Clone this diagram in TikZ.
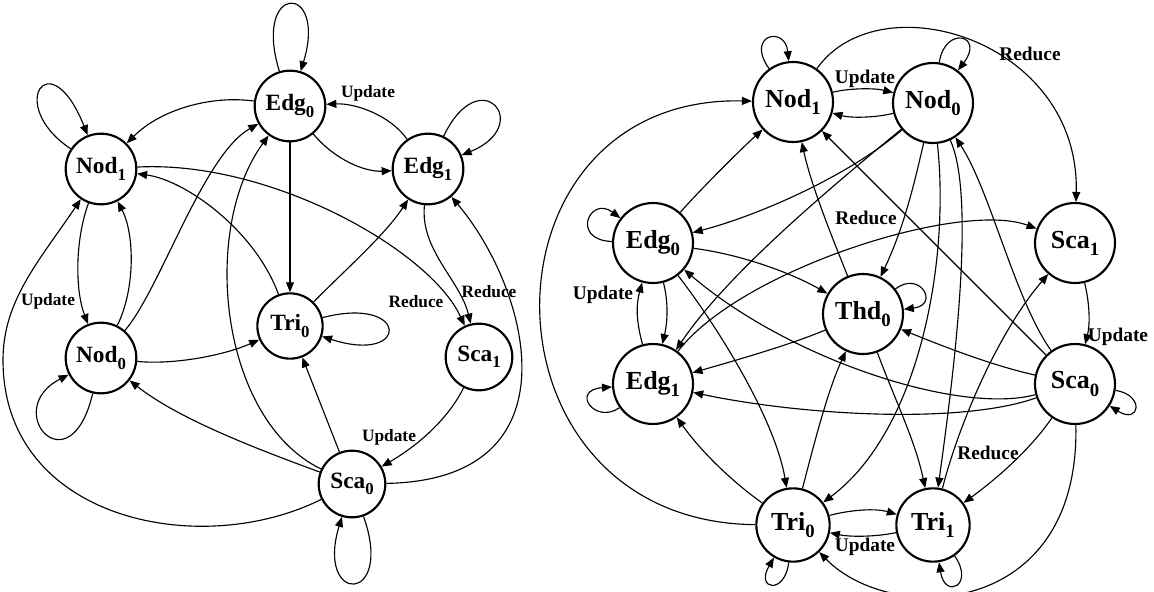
\documentclass[tikz,border=0pt]{standalone}
\usepackage{fontspec}
\setmainfont{Liberation Serif}
\usetikzlibrary{arrows.meta}
\newcommand{\nsub}[1]{\raisebox{-0.6ex}{\scalebox{0.72}{#1}}}
\begin{document}
\begin{tikzpicture}[x=0.75pt,y=-0.75pt,
  circ/.style={circle,draw,line width=1.6pt,inner sep=0pt},
  lnode/.style={circ,minimum size=53pt,font=\bfseries\fontsize{17.5}{19}\selectfont},
  rnode/.style={circ,minimum size=60pt,font=\bfseries\fontsize{19.5}{21}\selectfont},
  arr/.style={line width=0.85pt,-{Triangle[length=7.5pt,width=6pt]}},
  llbl/.style={inner sep=0pt,font=\bfseries\fontsize{13}{15}\selectfont},
  rlbl/.style={inner sep=0pt,font=\bfseries\fontsize{14.5}{16}\selectfont}]
\useasboundingbox (0,0) rectangle (1154,592);
\fill[white] (0,0) rectangle (1154,592);

% ---------------- left graph ----------------
\node[lnode] (N1) at (101,169) {Nod\nsub{1}};
\node[lnode] (E0) at (290,106) {Edg\nsub{0}};
\node[lnode] (E1) at (428,169) {Edg\nsub{1}};
\node[lnode] (N0) at (101,358) {Nod\nsub{0}};
\node[lnode,minimum size=49pt] (T0) at (290,326) {Tri\nsub{0}};
\node[lnode,minimum size=50pt] (S1) at (479,357) {Sca\nsub{1}};
\node[lnode,minimum size=50pt] (S0) at (352,484) {Sca\nsub{0}};
\coordinate (lw) at (3,360);

% self loops
\draw[arr] (N1) .. controls (5,105) and (50,40) .. (N1);
\draw[arr] (E0) .. controls (252,-18) and (328,-18) .. (E0);
\draw[arr] (E1) .. controls (480,60) and (535,125) .. (E1);
\draw[arr] (N0) .. controls (70,490) and (0,410) .. (N0);
\draw[arr] (T0) .. controls (410,295) and (410,365) .. (T0);
\draw[arr] (S0) .. controls (395,605) and (315,605) .. (S0);

% transitions
\draw[arr] (E0) .. controls (210,95) and (160,110) .. (N1);
\draw[arr] (E0) .. controls (335,160) and (365,172) .. (E1);
\draw[arr] (E1) .. controls (390,115) and (355,103) .. (E0);
\draw[arr] (E0) -- (T0);
\draw[arr] (N1) .. controls (75,240) and (75,290) .. (N0);
\draw[arr] (N0) .. controls (135,290) and (135,235) .. (N1);
\draw[arr] (N0) .. controls (160,290) and (203,155) .. (E0);
\draw[arr] (S0) .. controls (220,420) and (200,230) .. (E0);
\draw[arr] (T0) .. controls (255,230) and (185,180) .. (N1);
\draw[arr] (N1) .. controls (270,160) and (430,250) .. (S1);
\draw[arr] (E1) .. controls (420,250) and (460,280) .. (S1);
\draw[arr] (T0) .. controls (345,270) and (385,235) .. (E1);
\draw[arr] (S0) .. controls (580,480) and (530,290) .. (E1);
\draw[arr] (S1) .. controls (445,425) and (410,450) .. (S0);
\draw[arr] (S0) -- (T0);
\draw[arr] (S0) .. controls (260,450) and (180,420) .. (N0);
\draw[arr] (S0) .. controls (200,560) and (3,520) .. (lw)
                .. controls (3,300) and (40,260) .. (N1);
\draw[arr] (N0) .. controls (175,365) and (225,355) .. (T0);

\node[llbl] (lu1) at (368,93) {Update};
\node[llbl] (lu2) at (48,301) {Update};
\node[llbl] (lr1) at (416,302) {Reduce};
\node[llbl] (lr2) at (489,292) {Reduce};
\node[llbl] (lu3) at (389,437) {Update};

% ---------------- right graph ----------------
\node[rnode] (RN1) at (793,102) {Nod\nsub{1}};
\node[rnode] (RN0) at (933,103) {Nod\nsub{0}};
\node[rnode] (RE0) at (653,243) {Edg\nsub{0}};
\node[rnode] (RS1) at (1075,243) {Sca\nsub{1}};
\node[rnode] (RT) at (863,314) {Thd\nsub{0}};
\node[rnode] (RE1) at (653,384) {Edg\nsub{1}};
\node[rnode] (RS0) at (1075,384) {Sca\nsub{0}};
\node[rnode,minimum size=55pt] (RT0) at (793,525) {Tri\nsub{0}};
\node[rnode,minimum size=55pt] (RT1) at (933,525) {Tri\nsub{1}};

% self loops
\draw[arr] (RN1) .. controls (745,35) and (785,25) .. (RN1);
\draw[arr] (RN0) .. controls (945,25) and (985,35) .. (RN0);
\draw[arr] (RE0) .. controls (570,240) and (590,195) .. (RE0);
\draw[arr] (RT) .. controls (920,270) and (940,305) .. (RT);
\draw[arr] (RE1) .. controls (595,425) and (570,390) .. (RE1);
\draw[arr] (RS0) .. controls (1145,395) and (1140,425) .. (RS0);
\draw[arr] (RT0) .. controls (785,595) and (755,590) .. (RT0);
\draw[arr] (RT1) .. controls (975,585) and (945,600) .. (RT1);

% transitions
\draw[arr] (RN1) .. controls (850,88) and (875,88) .. (RN0);
\draw[arr] (RN0) .. controls (875,118) and (850,118) .. (RN1);
\draw[arr] (RN1) .. controls (880,-20) and (1080,40) .. (RS1);
\draw[arr] (RT0) .. controls (470,522) and (470,95) .. (RN1);
\draw[arr] (RE0) .. controls (700,190) and (740,150) .. (RN1);
\draw[arr] (RT) .. controls (825,220) and (810,180) .. (RN1);
\draw[arr] (RS0) -- (RN1);
\draw[arr] (RN0) .. controls (850,175) and (760,215) .. (RE0);
\draw[arr] (RN0) .. controls (840,180) and (730,270) .. (RE1);
\draw[arr] (RN0) .. controls (915,180) and (905,225) .. (RT);
\draw[arr] (RN0) .. controls (950,260) and (920,430) .. (RT0);
\draw[arr] (RN0) .. controls (978,200) and (950,400) .. (RT1);
\draw[arr] (RS0) .. controls (1015,300) and (990,190) .. (RN0);
\draw[arr] (RE0) .. controls (745,255) and (795,275) .. (RT);
\draw[arr] (RE0) .. controls (668,300) and (668,320) .. (RE1);
\draw[arr] (RE1) .. controls (636,320) and (636,305) .. (RE0);
\draw[arr] (RE0) .. controls (720,330) and (775,420) .. (RT0);
\draw[arr] (RE1) .. controls (740,270) and (960,200) .. (RS1);
\draw[arr] (RT) .. controls (790,345) and (730,362) .. (RE1);
\draw[arr] (RS0) .. controls (990,365) and (940,345) .. (RT);
\draw[arr] (RS0) .. controls (960,415) and (790,360) .. (RE0);
\draw[arr] (RS0) .. controls (960,425) and (800,415) .. (RE1);
\draw[arr] (RS0) .. controls (1030,450) and (995,480) .. (RT1);
\draw[arr] (RS0) .. controls (1080,620) and (890,625) .. (RT0);
\draw[arr] (RT0) .. controls (850,510) and (875,508) .. (RT1);
\draw[arr] (RT1) .. controls (875,537) and (850,537) .. (RT0);
\draw[arr] (RT0) .. controls (815,440) and (828,390) .. (RT);
\draw[arr] (RT0) .. controls (730,480) and (700,450) .. (RE1);
\draw[arr] (RT1) .. controls (960,420) and (1000,330) .. (RS1);
\draw[arr] (RS1) .. controls (1090,305) and (1090,325) .. (RS0);
\draw[arr] (RT) .. controls (895,400) and (915,440) .. (RT1);

\node[rlbl] (ru1) at (865,79) {Update};
\node[rlbl] (rr1) at (1030,54) {Reduce};
\node[rlbl] (rr2) at (866,218) {Reduce};
\node[rlbl] (ru2) at (603,295) {Update};
\node[rlbl] (ru3) at (1118,337) {Update};
\node[rlbl] (rr3) at (988,453) {Reduce};
\node[rlbl] (ru4) at (865,547) {Update};
\end{tikzpicture}
\end{document}
